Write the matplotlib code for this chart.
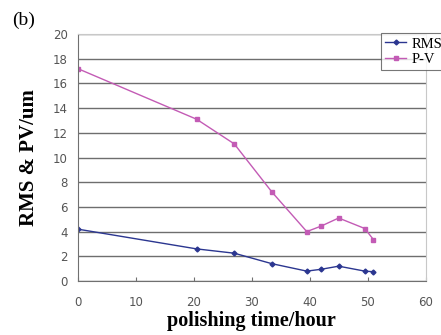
import numpy as np
import matplotlib.pyplot as plt

# polishing time (hour)
hours = [0, 20.5, 27, 33.5, 39.5, 42, 45, 49.5, 51]
rms   = [4.2, 2.6, 2.25, 1.4, 0.8, 0.95, 1.2, 0.8, 0.75]   # RMS
pv    = [17.2, 13.1, 11.1, 7.2, 4.0, 4.45, 5.1, 4.25, 3.35]  # P-V

xticks = [0, 10, 20, 30, 40, 50, 60]
yticks = [0, 2, 4, 6, 8, 10, 12, 14, 16, 18, 20]

serif = ['Liberation Serif', 'DejaVu Serif']

fig = plt.figure(figsize=(4.41, 3.35), dpi=100)
fig.patch.set_facecolor('white')
ax = fig.add_axes([0.1762, 0.1612, 0.789, 0.7373])

ax.plot(hours, rms, '-D', color='#2b3690', lw=1.0, ms=2.5, label='RMS')
ax.plot(hours, pv, '-s', color='#c35bb5', lw=1.0, ms=3.2, label='P-V')

ax.set_xlim(0, 60)
ax.set_ylim(0, 20)
ax.set_xticks(xticks)
ax.set_yticks(yticks)
ax.yaxis.grid(True, color='#6e6e6e', lw=1.0)
ax.set_axisbelow(True)

for s in ['top', 'right']:
    ax.spines[s].set_color('#c8c8c8')
for s in ['left', 'bottom']:
    ax.spines[s].set_color('#707070')
ax.tick_params(axis='x', direction='in', length=3, color='#707070',
               labelsize=8.5, labelcolor='#555555', pad=10.5)
ax.tick_params(axis='y', length=0, labelsize=8.5, labelcolor='#555555', pad=7)

ax.set_xlabel('polishing time/hour', family=serif, fontweight='bold',
              fontsize=14.5, labelpad=2)
ax.set_ylabel('RMS & PV/um', family=serif, fontweight='bold',
              fontsize=15, labelpad=10)

fig.text(0.027, 0.925, '(b)', family=serif, fontsize=14)

leg = fig.legend(loc='upper left', bbox_to_anchor=(381/441, 1 - 33/335),
                 prop={'family': serif, 'size': 10.5}, frameon=True,
                 fancybox=False, borderpad=0.3, handlelength=1.4,
                 handletextpad=0.4, labelspacing=0.15, borderaxespad=0)
leg.get_frame().set_edgecolor('#555555')
leg.get_frame().set_linewidth(0.8)

fig.savefig('out.png', dpi=100)
